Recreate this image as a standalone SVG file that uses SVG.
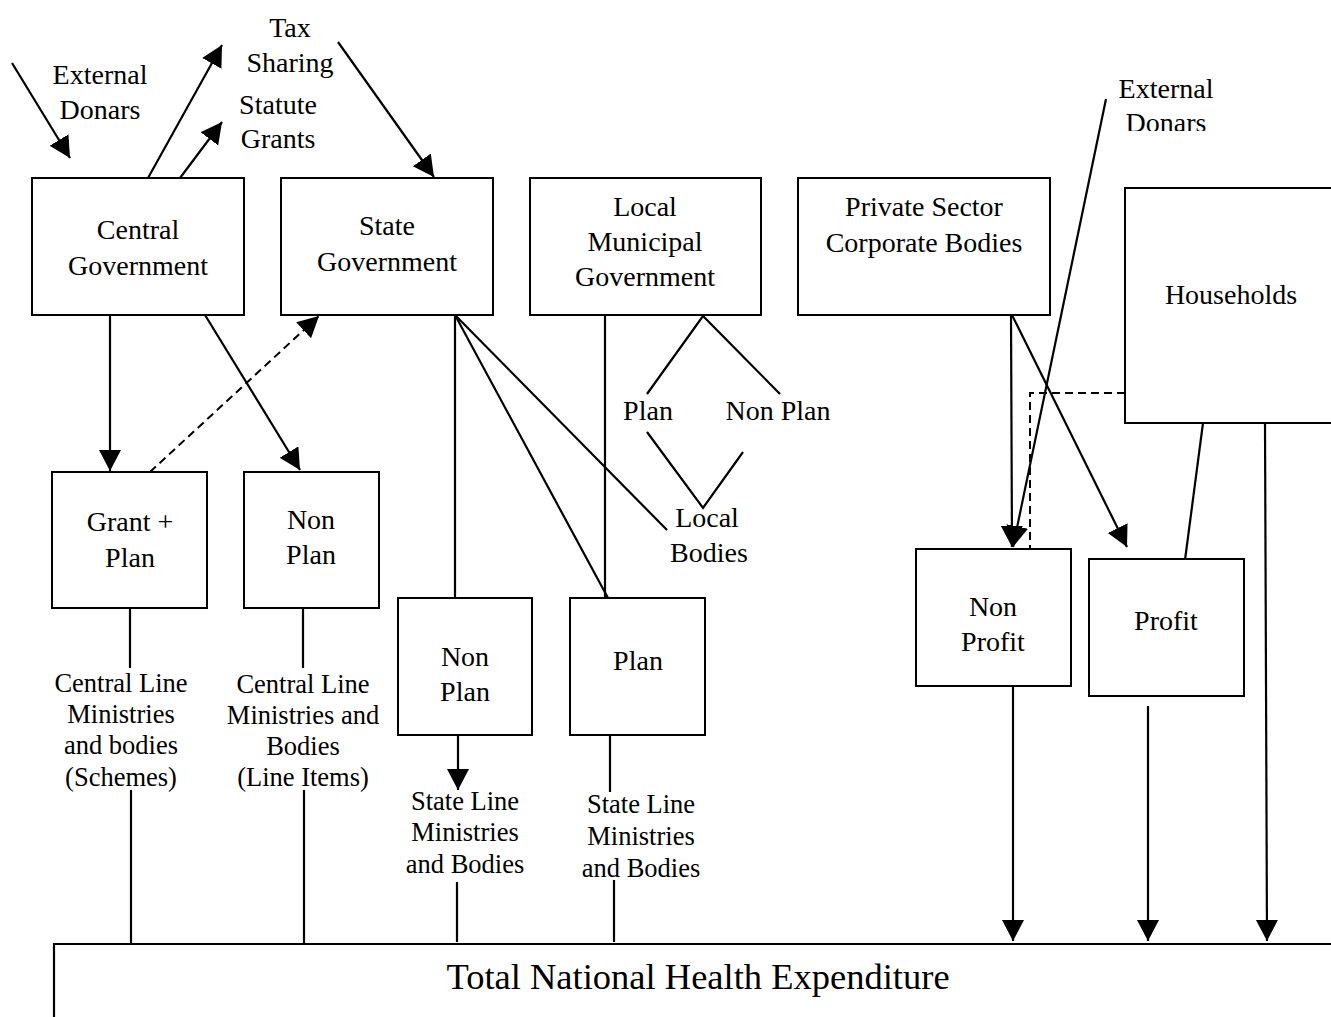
<svg xmlns="http://www.w3.org/2000/svg" width="1331" height="1017" viewBox="0 0 1331 1017">
<style>
.box{fill:#fff;stroke:#000;stroke-width:2}
.ln{fill:none;stroke:#000;stroke-width:2.2}
.ds{fill:none;stroke:#000;stroke-width:2;stroke-dasharray:8,5}
text{text-anchor:middle;fill:#000;font-family:"Liberation Serif","Times New Roman",serif}
.t{font-size:28px}
.s{font-size:26.5px}
.b{font-size:36.5px}
</style>
<defs>
<marker id="ah" markerUnits="userSpaceOnUse" markerWidth="24" markerHeight="24" refX="21" refY="11" orient="auto">
<path d="M0,0 L21,11 L0,22 Z" fill="#000"/>
</marker>
<clipPath id="clipD"><rect x="1000" y="0" width="331" height="131"/></clipPath>
</defs>
<rect width="1331" height="1017" fill="#fff"/>

<g id="connectors">
<line class="ln" x1="12" y1="63" x2="70" y2="158" marker-end="url(#ah)"/>
<line class="ln" x1="148" y1="178" x2="222" y2="45" marker-end="url(#ah)"/>
<line class="ln" x1="180" y1="178" x2="222" y2="122" marker-end="url(#ah)"/>
<line class="ln" x1="338" y1="42" x2="434" y2="177" marker-end="url(#ah)"/>
<line class="ln" x1="110" y1="315" x2="110" y2="471" marker-end="url(#ah)"/>
<line class="ln" x1="205" y1="315" x2="300" y2="470" marker-end="url(#ah)"/>
<line class="ds" x1="150" y1="472" x2="319" y2="316" marker-end="url(#ah)"/>
<line class="ln" x1="455" y1="315" x2="455" y2="598"/>
<line class="ln" x1="455" y1="315" x2="608" y2="598"/>
<line class="ln" x1="455" y1="315" x2="667" y2="530"/>
<line class="ln" x1="605" y1="315" x2="605" y2="598"/>
<polyline class="ln" points="647,394 703,316 780,394"/>
<polyline class="ln" points="647,432 703,508 743,452"/>
<line class="ln" x1="1011" y1="315" x2="1012" y2="547" marker-end="url(#ah)"/>
<line class="ln" x1="1106" y1="99" x2="1013" y2="547" marker-end="url(#ah)"/>
<line class="ln" x1="1012" y1="315" x2="1127" y2="547" marker-end="url(#ah)"/>
<polyline class="ds" points="1125,393 1030,393 1030,548"/>
<line class="ln" x1="1203" y1="423" x2="1185" y2="560"/>
<line class="ln" x1="1265" y1="423" x2="1267" y2="941" marker-end="url(#ah)"/>
<line class="ln" x1="1013" y1="686" x2="1013" y2="941" marker-end="url(#ah)"/>
<line class="ln" x1="1148" y1="706" x2="1148" y2="941" marker-end="url(#ah)"/>
<line class="ln" x1="130" y1="608" x2="130" y2="668"/>
<line class="ln" x1="131" y1="790" x2="131" y2="944"/>
<line class="ln" x1="303" y1="608" x2="303" y2="668"/>
<line class="ln" x1="304" y1="790" x2="304" y2="944"/>
<line class="ln" x1="458" y1="735" x2="458" y2="790" marker-end="url(#ah)"/>
<line class="ln" x1="457" y1="882" x2="457" y2="942"/>
<line class="ln" x1="610" y1="735" x2="610" y2="792"/>
<line class="ln" x1="614" y1="880" x2="614" y2="942"/>
</g>

<g id="labels">
<text class="t" x="290" y="37">Tax</text>
<text class="t" x="290" y="72">Sharing</text>
<text class="t" x="100" y="84">External</text>
<text class="t" x="100" y="119">Donars</text>
<text class="t" x="278" y="114">Statute</text>
<text class="t" x="278" y="148">Grants</text>
<g clip-path="url(#clipD)">
<text class="t" x="1166" y="98">External</text>
<text class="t" x="1166" y="132">Donars</text>
</g>
<text class="t" x="648" y="420">Plan</text>
<text class="t" x="778" y="420">Non Plan</text>
<text class="t" x="707" y="527">Local</text>
<text class="t" x="709" y="562">Bodies</text>
<text class="s" x="121" y="692">Central Line</text>
<text class="s" x="121" y="723">Ministries</text>
<text class="s" x="121" y="754">and bodies</text>
<text class="s" x="121" y="786">(Schemes)</text>
<text class="s" x="303" y="693">Central Line</text>
<text class="s" x="303" y="724">Ministries and</text>
<text class="s" x="303" y="755">Bodies</text>
<text class="s" x="303" y="786">(Line Items)</text>
<text class="s" x="465" y="810">State Line</text>
<text class="s" x="465" y="841">Ministries</text>
<text class="s" x="465" y="873">and Bodies</text>
<text class="s" x="641" y="813">State Line</text>
<text class="s" x="641" y="845">Ministries</text>
<text class="s" x="641" y="877">and Bodies</text>
</g>

<g id="central-government">
<rect class="box" x="32" y="178" width="212" height="137"/>
<text class="t" x="138" y="239">Central</text>
<text class="t" x="138" y="275">Government</text>
</g>
<g id="state-government">
<rect class="box" x="281" y="178" width="212" height="137"/>
<text class="t" x="387" y="235">State</text>
<text class="t" x="387" y="271">Government</text>
</g>
<g id="local-municipal-government">
<rect class="box" x="530" y="178" width="231" height="137"/>
<text class="t" x="645" y="216">Local</text>
<text class="t" x="645" y="251">Municipal</text>
<text class="t" x="645" y="286">Government</text>
</g>
<g id="private-sector">
<rect class="box" x="798" y="178" width="252" height="137"/>
<text class="t" x="924" y="216">Private Sector</text>
<text class="t" x="924" y="252">Corporate Bodies</text>
</g>
<g id="households">
<rect class="box" x="1125" y="188" width="220" height="235"/>
<text class="t" x="1231" y="304">Households</text>
</g>
<g id="grant-plan">
<rect class="box" x="52" y="472" width="155" height="136"/>
<text class="t" x="130" y="531">Grant +</text>
<text class="t" x="130" y="567">Plan</text>
</g>
<g id="central-non-plan">
<rect class="box" x="244" y="472" width="135" height="136"/>
<text class="t" x="311" y="529">Non</text>
<text class="t" x="311" y="564">Plan</text>
</g>
<g id="state-non-plan">
<rect class="box" x="398" y="598" width="134" height="137"/>
<text class="t" x="465" y="666">Non</text>
<text class="t" x="465" y="701">Plan</text>
</g>
<g id="state-plan">
<rect class="box" x="570" y="598" width="135" height="137"/>
<text class="t" x="638" y="670">Plan</text>
</g>
<g id="non-profit">
<rect class="box" x="916" y="549" width="155" height="137"/>
<text class="t" x="993" y="616">Non</text>
<text class="t" x="993" y="651">Profit</text>
</g>
<g id="profit">
<rect class="box" x="1089" y="559" width="155" height="137"/>
<text class="t" x="1166" y="630">Profit</text>
</g>
<g id="total">
<polyline class="ln" points="54,1017 54,944 1331,944"/>
<text class="b" x="698" y="989">Total National Health Expenditure</text>
</g>
</svg>
